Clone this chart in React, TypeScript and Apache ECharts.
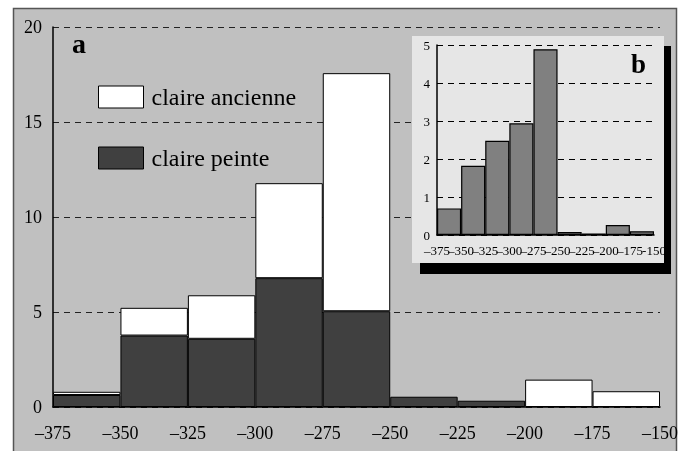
import React, { useEffect, useRef } from "react";
import * as echarts from "echarts";

// Bin edges / tick values (shared by both panels)
const tickValues = [-375, -350, -325, -300, -275, -250, -225, -200, -175, -150];
const bins = ["-375", "-350", "-325", "-300", "-275", "-250", "-225", "-200", "-175"];

// Panel a: stacked counts
const peinte = [0.63, 3.76, 3.59, 6.78, 5.04, 0.54, 0.33, null, null];
const ancienneExtra = [0.17, 1.46, 2.29, 5.0, 12.53, null, null, 1.44, 0.83];

// Panel b (inset)
const insetValues = [0.7, 1.82, 2.48, 2.94, 4.89, 0.08, 0.04, 0.26, 0.1];

const SERIF = "'Liberation Serif', 'Times New Roman', serif";
const dash = (v: number | string) => String(v).replace("-", "\u2013");

export default function App() {
  const ref = useRef<HTMLDivElement>(null);
  useEffect(() => {
    if (!ref.current) return;
    const chart = echarts.init(ref.current, undefined, { renderer: "svg" });
    const option: any = {
      animation: false,
      backgroundColor: "transparent",
      textStyle: { fontFamily: SERIF },
      graphic: [
        {
          type: "rect",
          z: -10,
          silent: true,
          shape: { x: 13.5, y: 8.5, width: 663, height: 470 },
          style: { fill: "#c0c0c0", stroke: "#555", lineWidth: 1.5 },
        },
        {
          type: "rect",
          z: 3,
          silent: true,
          shape: { x: 420, y: 46, width: 251, height: 228 },
          style: { fill: "#000" },
        },
        {
          type: "rect",
          z: 3,
          silent: true,
          shape: { x: 412, y: 36, width: 252, height: 227 },
          style: { fill: "#e6e6e6" },
        },
        {
          type: "text",
          z: 5,
          silent: true,
          style: {
            x: 72,
            y: 43.5,
            text: "a",
            font: `bold 28px ${SERIF}`,
            fill: "#000",
            textAlign: "left",
            textVerticalAlign: "middle",
          },
        },
        {
          type: "text",
          z: 8,
          silent: true,
          style: {
            x: 631,
            y: 64,
            text: "b",
            font: `bold 27px ${SERIF}`,
            fill: "#000",
            textAlign: "left",
            textVerticalAlign: "middle",
          },
        },
      ],
      legend: {
        data: ["claire ancienne", "claire peinte"],
        orient: "vertical",
        left: 93,
        top: 80,
        icon: "rect",
        itemWidth: 45,
        itemHeight: 22,
        itemGap: 37,
        selectedMode: false,
        itemStyle: { borderColor: "#000", borderWidth: 1 },
        textStyle: {
          fontFamily: SERIF,
          fontSize: 24,
          color: "#000",
          padding: [0, 0, 0, 3],
        },
      },
      grid: [
        { left: 53, right: 24, top: 27, bottom: 44 },
        { left: 437, right: 30, top: 45, bottom: 216 },
      ],
      xAxis: [
        {
          type: "category",
          gridIndex: 0,
          data: bins,
          show: false,
          boundaryGap: true,
        },
        {
          type: "value",
          gridIndex: 0,
          min: -375,
          max: -150,
          interval: 25,
          position: "bottom",
          axisLine: { show: true, lineStyle: { color: "#000", width: 1.5 } },
          axisTick: { show: false },
          splitLine: { show: false },
          axisLabel: {
            color: "#000",
            fontFamily: SERIF,
            fontSize: 18,
            lineHeight: 18,
            margin: 17,
            showMinLabel: true,
            showMaxLabel: true,
            formatter: (v: number) => dash(tickValues[Math.round((v + 375) / 25)]),
          },
        },
        {
          type: "category",
          gridIndex: 1,
          data: bins,
          show: false,
          boundaryGap: true,
          z: 6,
        },
        {
          type: "category",
          gridIndex: 1,
          data: tickValues.map(String),
          boundaryGap: false,
          position: "bottom",
          z: 6,
          axisLine: { show: true, lineStyle: { color: "#000", width: 1.5 } },
          axisTick: { show: false },
          splitLine: { show: false },
          axisLabel: {
            interval: 0,
            color: "#000",
            fontFamily: SERIF,
            fontSize: 13,
            lineHeight: 13,
            margin: 9,
            formatter: (v: string, i: number) => (i === tickValues.length - 1 ? v : dash(v)),
          },
        },
      ],
      yAxis: [
        {
          type: "value",
          gridIndex: 0,
          min: 0,
          max: 20,
          interval: 5,
          axisLine: { show: true, lineStyle: { color: "#000", width: 1.5 } },
          axisTick: { show: false },
          splitLine: { show: true, lineStyle: { color: "#222", type: [6, 5], width: 1.2 } },
          axisLabel: { color: "#000", fontFamily: SERIF, fontSize: 18, margin: 11 },
        },
        {
          type: "value",
          gridIndex: 1,
          min: 0,
          max: 5,
          interval: 1,
          z: 6,
          axisLine: { show: true, lineStyle: { color: "#000", width: 1.5 } },
          axisTick: { show: false },
          splitLine: { show: true, lineStyle: { color: "#000", type: [6, 5], width: 1.2 } },
          axisLabel: { color: "#000", fontFamily: SERIF, fontSize: 13, margin: 7 },
        },
      ],
      series: [
        {
          name: "claire peinte",
          type: "bar",
          xAxisIndex: 0,
          yAxisIndex: 0,
          stack: "a",
          barWidth: "100%",
          barCategoryGap: "0%",
          data: peinte,
          itemStyle: { color: "#404040", borderColor: "#000", borderWidth: 1 },
          z: 2,
        },
        {
          name: "claire ancienne",
          type: "bar",
          xAxisIndex: 0,
          yAxisIndex: 0,
          stack: "a",
          barWidth: "100%",
          barCategoryGap: "0%",
          data: ancienneExtra,
          itemStyle: { color: "#ffffff", borderColor: "#000", borderWidth: 1 },
          z: 2,
        },
        {
          name: "b",
          type: "bar",
          xAxisIndex: 2,
          yAxisIndex: 1,
          barWidth: "100%",
          barCategoryGap: "0%",
          data: insetValues,
          itemStyle: { color: "#808080", borderColor: "#000", borderWidth: 1.2 },
          z: 7,
        },
      ],
    };
    chart.setOption(option);
    return () => chart.dispose();
  }, []);
  return (
    <div
      ref={ref}
      style={{ position: "fixed", left: 0, top: 0, width: 684, height: 451 }}
    />
  );
}
